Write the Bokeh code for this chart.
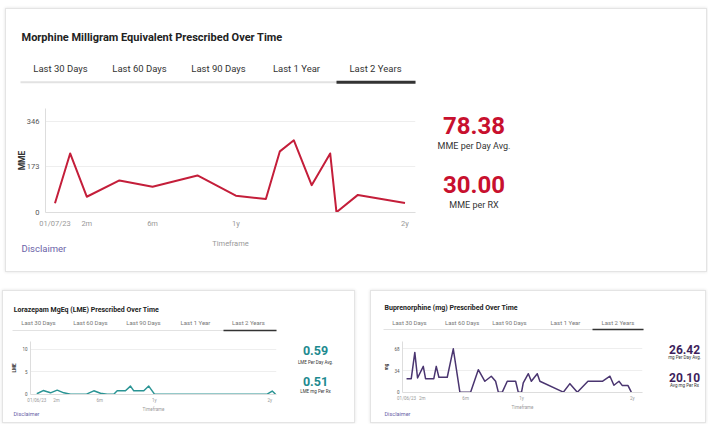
from bokeh.plotting import figure
from bokeh.models import Range1d, FixedTicker, Title, Spacer
from bokeh.layouts import row, column
from bokeh.core.properties import value
from bokeh.embed import file_html
from bokeh.resources import INLINE

FONT = "Roboto"

# ---------------- data ----------------
TAB_LABELS = ["Last 30 Days", "Last 60 Days", "Last 90 Days", "Last 1 Year", "Last 2 Years"]
X_LABEL = "Timeframe"
DISCLAIMER = "Disclaimer"

MME_TITLE = "Morphine Milligram Equivalent Prescribed Over Time"
MME_MONTHS = [0, 1.04, 2.18, 4.42, 6.69, 9.77, 12.4, 14.46, 15.42, 16.38, 17.6, 18.87, 19.3, 20.77, 24.0]
MME_VALUES = [34, 224, 59, 121, 97, 140, 63, 50, 232, 274, 103, 224, 0, 66, 35]
MME_XTICKS = [0, 2.18, 6.69, 12.4, 24]
MME_XLABELS = ["01/07/23", "2m", "6m", "1y", "2y"]
MME_YTICKS = [0, 173, 346]
MME_YLABEL = "MME"
MME_STATS = ["78.38", "30.00"]
MME_STAT_LABELS = ["MME per Day Avg.", "MME per RX"]

LME_TITLE = "Lorazepam MgEq (LME) Prescribed Over Time"
LME_MONTHS = [0, 0.66, 1.41, 2.1, 2.78, 3.47, 5.12, 5.87, 6.56, 7.25, 7.93, 8.28, 9.13, 9.65,
              9.99, 11.02, 11.53, 12.12, 23.73, 24.25, 24.59]
LME_VALUES = [0.1, 0.8, 0.3, 0.9, 0.3, 0, 0, 0.75, 0.2, 0, 0, 0.75, 0.75, 1.8,
              0.75, 0.75, 1.8, 0, 0, 0.7, 0]
LME_XTICKS = [0, 2.03, 6.48, 12.1, 24]
LME_XLABELS = ["01/06/23", "2m", "6m", "1y", "2y"]
LME_YTICKS = [0, 5, 10]
LME_YLABEL = "LME"
LME_STATS = ["0.59", "0.51"]
LME_STAT_LABELS = ["LME Per Day Avg.", "LME mg Per Rx"]

BUP_TITLE = "Buprenorphine (mg) Prescribed Over Time"
BUP_MONTHS = [0, 0.5, 0.88, 1.17, 1.78, 2.02, 2.9, 3.16, 3.44, 4.33, 4.97, 5.67, 6.81, 7.63,
              8.33, 9.01, 9.47, 9.76, 10.18, 10.71, 11.6, 11.88, 12.23, 12.41, 12.95, 13.27,
              13.9, 14.18, 16.67, 17.37, 18.16, 19.29, 20.82, 21.63, 22.05, 22.59, 22.95,
              23.55, 23.9]
BUP_VALUES = [21.2, 21.2, 62.4, 22.3, 40.5, 21.2, 21.2, 40.5, 23.4, 23.4, 68, 0, 0, 35.2,
              17.1, 25, 17.1, 0, 0, 17.1, 17.1, 0, 0, 14.5, 29, 17.1,
              29, 17.1, 0, 13.4, 0, 17.1, 17.1, 25, 10.9, 17.1, 10.3,
              10.3, 0]
BUP_XTICKS = [0, 1.67, 6.28, 12.23, 24]
BUP_XLABELS = ["01/06/23", "2m", "6m", "1y", "2y"]
BUP_YTICKS = [0, 34, 68]
BUP_YLABEL = "mg"
BUP_STATS = ["26.42", "20.10"]
BUP_STAT_LABELS = ["mg Per Day Avg.", "Avg mg Per Rx"]


# ---------------- helpers ----------------
def no_align(f):
    try:
        f.frame_align = False
    except Exception:
        pass


def canvas(w, h):
    f = figure(width=w, height=h, x_range=Range1d(0, w), y_range=Range1d(h, 0),
               toolbar_location=None, output_backend="svg",
               x_axis_location=None, y_axis_location=None, min_border=0)
    f.grid.visible = False
    f.outline_line_color = None
    f.background_fill_color = "white"
    f.border_fill_color = "white"
    no_align(f)
    return f


def header(w, h, title, tx, ty, tsize, tab_x, tab_y, tab_size, tab_color,
           ly, lx0, lx1, dx0, lw, dw):
    f = canvas(w, h)
    f.text(x=[tx], y=[ty], text=[title], text_font=value(FONT), text_font_size=tsize,
           text_font_style="bold", text_color="#222222", text_align="left",
           text_baseline="middle")
    f.text(x=tab_x, y=[tab_y] * len(TAB_LABELS), text=TAB_LABELS, text_font=value(FONT),
           text_font_size=tab_size, text_color=tab_color, text_align="center",
           text_baseline="middle")
    f.segment(x0=[lx0], y0=[ly], x1=[lx1], y1=[ly], line_color="#e2e2e2", line_width=lw)
    f.segment(x0=[dx0], y0=[ly], x1=[lx1], y1=[ly], line_color="#333333", line_width=dw)
    return f


def stats(w, h, cx, ys, vals, labels, vsize, lsize, color):
    f = canvas(w, h)
    f.text(x=[cx] * 2, y=[ys[0], ys[2]], text=vals, text_font=value(FONT),
           text_font_size=vsize, text_font_style="bold", text_color=color,
           text_align="center", text_baseline="middle")
    f.text(x=[cx] * 2, y=[ys[1], ys[3]], text=labels, text_font=value(FONT),
           text_font_size=lsize, text_color="#333333", text_align="center",
           text_baseline="middle")
    return f


def chart(w, h, bl, br, bt, bb, xr, yr, xs, ys, color, lw, xticks, xlabels, yticks, ylabel,
          tick_size, lab_size, ylab_size, disc_size, disc_offset, disc_standoff,
          tick_standoff, xlab_standoff, ylab_standoff):
    p = figure(width=w, height=h, x_range=Range1d(*xr), y_range=Range1d(*yr),
               toolbar_location=None, output_backend="svg",
               min_border_left=bl, min_border_right=br, min_border_top=bt,
               min_border_bottom=bb)
    no_align(p)
    p.outline_line_color = None
    p.background_fill_color = "white"
    p.border_fill_color = "white"
    p.xgrid.visible = False
    p.ygrid.grid_line_color = "#eeeeee"
    p.ygrid.ticker = FixedTicker(ticks=yticks)
    p.line(xs, ys, line_color=color, line_width=lw, line_join="round")

    p.xaxis.ticker = FixedTicker(ticks=xticks)
    p.xaxis.major_label_overrides = {t: l for t, l in zip(xticks, xlabels)}
    p.yaxis.ticker = FixedTicker(ticks=yticks)
    for ax in p.axis:
        ax.axis_line_color = "#dddddd"
        ax.major_tick_line_color = None
        ax.minor_tick_line_color = None
        ax.major_tick_out = 0
        ax.major_tick_in = 0
        ax.major_label_text_font = FONT
        ax.major_label_text_font_size = tick_size
        ax.major_label_text_color = "#999999"
        ax.major_label_standoff = tick_standoff
    p.yaxis.major_label_text_color = "#555555"
    p.xaxis.axis_label = X_LABEL
    p.xaxis.axis_label_text_font = FONT
    p.xaxis.axis_label_text_font_size = lab_size
    p.xaxis.axis_label_text_font_style = "normal"
    p.xaxis.axis_label_text_color = "#999999"
    p.xaxis.axis_label_standoff = xlab_standoff
    p.yaxis.axis_label = ylabel
    p.yaxis.axis_label_text_font = FONT
    p.yaxis.axis_label_text_font_size = ylab_size
    p.yaxis.axis_label_text_font_style = "bold"
    p.yaxis.axis_label_text_color = "#333333"
    p.yaxis.axis_label_standoff = ylab_standoff

    t = Title(text=DISCLAIMER, align="left", offset=disc_offset, standoff=disc_standoff,
              vertical_align="top", text_line_height=0.8,
              text_font=FONT, text_font_size=disc_size, text_font_style="normal",
              text_color="#6b63a8")
    p.add_layout(t, "below")
    return p


CARD_STYLE = {"border": "1px solid #e4e4e4", "box-shadow": "0 0 3px rgba(0,0,0,0.12)"}

# ---------------- top card (MME) ----------------
hdr1 = header(424, 81, MME_TITLE, 15, 28, "11px", [54, 133, 212, 290, 369], 59, "9.5px",
              "#333333", 72.7, 14, 409, 330, 2, 3)
chart1 = chart(424, 181, 39, 15, 18, 59, (-0.65, 24.72), (-1.1, 395.3), MME_MONTHS, MME_VALUES,
               "#c41e3a", 2, MME_XTICKS, MME_XLABELS, MME_YTICKS, MME_YLABEL,
               "7.5px", "7.5px", "8.5px", "9.5px", -24, -16, 6, 8, -3)
stats1 = stats(276, 262, 43.5, [115.5, 136.5, 174.5, 195], MME_STATS, MME_STAT_LABELS,
               "24px", "9px", "#c8102e")
top = row(column(hdr1, chart1), stats1, styles=CARD_STYLE)

# ---------------- bottom left card (LME) ----------------
hdr2 = header(285, 44, LME_TITLE, 10.3, 18, "7px", [35, 87, 140, 192, 245], 31, "6px",
              "#777777", 39, 9, 273, 220, 1, 1.5)
chart2 = chart(285, 87, 27, 12, 6, 28, (-0.65, 24.69), (-0.07, 11.7), LME_MONTHS, LME_VALUES,
               "#2a9494", 1.5, LME_XTICKS, LME_XLABELS, LME_YTICKS, LME_YLABEL,
               "4.5px", "4.5px", "4.5px", "5.5px", -17, -7, 3, 1, 2)
stats2 = stats(66, 131, 27, [59, 71, 90, 100], LME_STATS, LME_STAT_LABELS,
               "12.5px", "4.5px", "#1d8a8f")
card2 = row(column(hdr2, chart2), stats2, styles=CARD_STYLE)

# ---------------- bottom right card (BUP) ----------------
hdr3 = header(280, 44, BUP_TITLE, 13, 16, "7px", [38, 90.7, 138, 194, 246.5], 31, "6px",
              "#777777", 38, 12, 272, 221, 1, 1.5)
chart3 = chart(280, 87, 31, 9, 6, 30, (-0.43, 25.09), (-0.5, 79.5), BUP_MONTHS, BUP_VALUES,
               "#4a3570", 1.5, BUP_XTICKS, BUP_XLABELS, BUP_YTICKS, BUP_YLABEL,
               "4.5px", "4.5px", "4.5px", "5.5px", -18, -3, 3, 1, 2)
stats3 = stats(54, 131, 33, [58, 66, 85.5, 93.7], BUP_STATS, BUP_STAT_LABELS,
               "12px", "4.5px", "#3d1f5c")
card3 = row(column(hdr3, chart3), stats3, styles=CARD_STYLE)

layout = column(
    Spacer(width=700, height=8),
    row(Spacer(width=5, height=264), top),
    Spacer(width=700, height=18),
    row(Spacer(width=2, height=133), card2, Spacer(width=15, height=133), card3),
)

open("out.html", "w").write(file_html(layout, INLINE))
